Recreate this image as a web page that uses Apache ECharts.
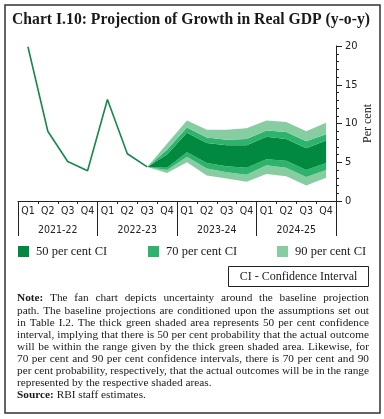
<!DOCTYPE html>
<html><head><meta charset="utf-8">
<script src="https://cdn.jsdelivr.net/npm/echarts@6/dist/echarts.min.js"></script>
<style>html,body{margin:0;padding:0;background:#fff}#c{width:384px;height:419px}</style>
</head><body><div id="c"></div>
<script>
// ---- data ----
const quarters = ['Q1','Q2','Q3','Q4','Q1','Q2','Q3','Q4','Q1','Q2','Q3','Q4','Q1','Q2','Q3','Q4'];
const years = ['2021-22','2022-23','2023-24','2024-25'];
const actual = [19.9, 9.0, 5.1, 3.9, 13.1, 6.1, 4.4];
const fanStartIndex = 6; // Q3 2022-23
const upper90 = [4.4, 7.4, 10.4, 9.2, 9.2, 9.4, 10.4, 10.2, 9.0, 10.1];
const upper70 = [4.4, 6.6, 9.5, 8.2, 7.9, 8.0, 9.1, 8.9, 7.7, 8.6];
const upper50 = [4.4, 6.0, 8.8, 7.5, 7.2, 7.2, 8.3, 8.0, 6.8, 7.8];
const lower50 = [4.4, 4.3, 6.3, 4.9, 4.5, 4.3, 5.4, 5.2, 4.0, 4.9];
const lower70 = [4.4, 4.0, 5.7, 4.2, 3.7, 3.4, 4.6, 4.3, 3.1, 4.0];
const lower90 = [4.4, 3.6, 5.0, 3.3, 2.9, 2.5, 3.5, 3.2, 2.0, 3.0];
const yTicks = {min: 0, max: 20, interval: 5};
const titleText = 'Chart I.10: Projection of Growth in Real GDP (y-o-y)';
const legendNames = ['50 per cent CI', '70 per cent CI', '90 per cent CI'];
const boxText = 'CI - Confidence Interval';
const noteLines = [
  'Note: The fan chart depicts uncertainty around the baseline projection',
  'path. The baseline projections are conditioned upon the assumptions set out',
  'in Table I.2. The thick green shaded area represents 50 per cent confidence',
  'interval, implying that there is 50 per cent probability that the actual outcome',
  'will be within the range given by the thick green shaded area. Likewise, for',
  '70 per cent and 90 per cent confidence intervals, there is 70 per cent and 90',
  'per cent probability, respectively,  that the actual outcomes will be in the range',
  'represented by the respective shaded areas.',
  'Source: RBI staff estimates.'
];
const noteJustified = [true, true, true, true, true, true, true, false, false];
const boldWords = ['Note:', 'Source:'];

// ---- styles ----
const C50 = '#00893F', C70 = '#2DB36C', C90 = '#86CDA2', CLINE = '#16894A';
const SERIF = '"Liberation Serif", "Times New Roman", serif';
const SANS = '"DejaVu Sans Condensed", "DejaVu Sans", sans-serif';

const n = quarters.length;
function pad(arr, start) {
  const out = new Array(n).fill(null);
  arr.forEach((v, i) => { out[start + i] = v; });
  return out;
}
function diff(a, b) { return a.map((v, i) => +(v - b[i]).toFixed(3)); }

const actualData = pad(actual, 0);
const baseData = pad(lower90, fanStartIndex);
const bands = [
  {name: legendNames[2], color: C90, vals: diff(lower70, lower90)},
  {name: legendNames[1], color: C70, vals: diff(lower50, lower70)},
  {name: legendNames[0], color: C50, vals: diff(upper50, lower50)},
  {name: legendNames[1], color: C70, vals: diff(upper70, upper50)},
  {name: legendNames[2], color: C90, vals: diff(upper90, upper70)}
];

const series = [{
  name: 'base', type: 'line', stack: 'fan', data: baseData, symbol: 'none',
  lineStyle: {width: 0, opacity: 0}, silent: true, z: 2
}];
bands.forEach(b => series.push({
  name: b.name, type: 'line', stack: 'fan', data: pad(b.vals, fanStartIndex),
  symbol: 'none', silent: true, z: 2,
  itemStyle: {color: b.color},
  lineStyle: {width: 0, opacity: 0},
  areaStyle: {color: b.color, opacity: 1}
}));
series.push({
  name: 'Actual', type: 'line', data: actualData, symbol: 'none', z: 3,
  lineStyle: {color: CLINE, width: 1.6}, itemStyle: {color: CLINE}
});

// ---- note text with justification ----
const measureCtx = document.createElement('canvas').getContext('2d');
function measure(t, font) { measureCtx.font = font; return measureCtx.measureText(t).width; }
const NOTE_SIZE = 11.3, NOTE_LEFT = 17, NOTE_RIGHT = 369, NOTE_TOP = 298.5, NOTE_LH = 12.1;
const graphics = [];
noteLines.forEach((line, li) => {
  const words = line.split(/\s+/);
  const fonts = words.map(w => (boldWords.includes(w) ? 'bold ' : '') + NOTE_SIZE + 'px ' + SERIF);
  const widths = words.map((w, i) => measure(w, fonts[i]));
  const total = widths.reduce((a, b) => a + b, 0);
  const spaceW = measure(' ', NOTE_SIZE + 'px ' + SERIF);
  const gap = noteJustified[li] && words.length > 1 ? (NOTE_RIGHT - NOTE_LEFT - total) / (words.length - 1) : spaceW;
  let x = NOTE_LEFT;
  const y = NOTE_TOP + li * NOTE_LH;
  words.forEach((w, i) => {
    graphics.push({
      type: 'text', x: x, y: y, silent: true,
      style: {text: w, fontSize: NOTE_SIZE, fontFamily: SERIF, fontWeight: boldWords.includes(w) ? 'bold' : 'normal',
        fill: '#1a1a1a', verticalAlign: 'middle', align: 'left'}
    });
    x += widths[i] + gap;
  });
});
graphics.push({
  type: 'rect', shape: {x: 5, y: 5, width: 375, height: 408}, silent: true,
  style: {fill: 'none', stroke: '#333', lineWidth: 1.5}
});
graphics.push({
  type: 'text', x: 12, y: 20, silent: true,
  style: {text: titleText, fontSize: 15.7, fontWeight: 'bold', fontFamily: SERIF, fill: '#1a1a1a', verticalAlign: 'middle'}
});
graphics.push({
  type: 'rect', shape: {x: 228.5, y: 266.5, width: 140, height: 20}, silent: true,
  style: {fill: '#fff', stroke: '#222', lineWidth: 1}
});
graphics.push({
  type: 'text', x: 298.5, y: 276.5, silent: true,
  style: {text: boxText, fontSize: 12, fontFamily: SERIF, fill: '#1a1a1a', align: 'center', verticalAlign: 'middle'}
});

const legendBase = {
  top: 245, itemWidth: 11, itemHeight: 11, icon: 'rect', selectedMode: false, padding: 0,
  itemStyle: {borderWidth: 0},
  textStyle: {fontSize: 12.5, fontFamily: SERIF, color: '#1a1a1a', padding: [0, 0, 0, 2]}
};

const chart = echarts.init(document.getElementById('c'), null, {renderer: 'canvas'});
chart.setOption({
  backgroundColor: '#fff',
  animation: false,
  grid: {left: 18, right: 48, top: 46, height: 155, containLabel: false, outerBoundsMode: 'none'},
  xAxis: [{
    type: 'category', data: quarters, boundaryGap: true, position: 'bottom',
    axisLine: {show: true, lineStyle: {color: '#222', width: 1}},
    axisTick: {show: true, length: 3, inside: false, lineStyle: {color: '#222'}},
    axisLabel: {interval: 0, margin: 5, fontSize: 10.5, fontFamily: SANS, color: '#222'},
    splitLine: {show: false}
  }, {
    type: 'category', data: years, boundaryGap: true, position: 'bottom', gridIndex: 0,
    axisLine: {show: false},
    axisTick: {show: true, length: 35, inside: false, lineStyle: {color: '#222'}},
    axisLabel: {interval: 0, margin: 24, fontSize: 10.5, fontFamily: SANS, color: '#222'},
    splitLine: {show: false}
  }],
  yAxis: {
    type: 'value', position: 'right', min: yTicks.min, max: yTicks.max, interval: yTicks.interval,
    name: 'Per cent', nameLocation: 'middle', nameGap: 26, nameRotate: 90, nameMoveOverlap: false,
    nameTextStyle: {fontSize: 12, fontFamily: SERIF, color: '#222'},
    axisLine: {show: true, lineStyle: {color: '#222', width: 1}},
    axisTick: {show: true, length: 6, inside: false, lineStyle: {color: '#222'}},
    minorTick: {show: true, splitNumber: 5, length: 3, lineStyle: {color: '#222'}},
    axisLabel: {margin: 9, fontSize: 11, fontFamily: SANS, color: '#222'},
    splitLine: {show: false}, minorSplitLine: {show: false}
  },
  legend: [
    Object.assign({}, legendBase, {left: 18, data: [legendNames[0]]}),
    Object.assign({}, legendBase, {left: 148, data: [legendNames[1]]}),
    Object.assign({}, legendBase, {left: 277, data: [legendNames[2]]})
  ],
  series: series,
  graphic: graphics
});
</script>
</body></html>
